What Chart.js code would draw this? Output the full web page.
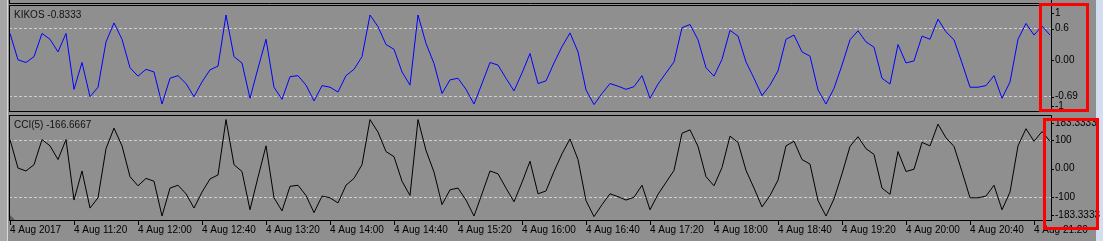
<!DOCTYPE html>
<html><head><meta charset="utf-8">
<script src="https://cdn.jsdelivr.net/npm/chart.js@4.4.1/dist/chart.umd.min.js"></script>
<style>
html,body{margin:0;padding:0;background:#8f8f8f;width:1103px;height:241px;overflow:hidden;position:relative}
canvas{position:absolute;left:0}
#cA{top:0}
#cB{top:113px}
#leftStrip{position:absolute;left:0;top:0;width:7px;height:241px;background:#a6a6a6;border-right:1px solid #d8d8d8}
#rightStrip{position:absolute;left:1096px;top:0;width:7px;height:241px;background:#d3dff0}
</style></head>
<body>
<div id="leftStrip"></div><div id="rightStrip"></div>
<canvas id="cA" width="1103" height="114"></canvas>
<canvas id="cB" width="1103" height="128"></canvas>
<script>
// ---- data (M5 bars, 4 Aug 2017 10:40 .. 21:30) ----
const kikosValues = [0.51,0.01,-0.04,0.07,0.51,0.40,0.16,0.51,-0.55,-0.04,
-0.69,-0.51,0.35,0.71,0.40,-0.14,-0.30,-0.17,-0.22,-0.83,
-0.34,-0.29,-0.44,-0.69,-0.41,-0.18,-0.11,0.86,0.07,-0.05,
-0.72,-0.15,0.40,-0.51,-0.74,-0.31,-0.29,-0.47,-0.77,-0.48,
-0.51,-0.60,-0.29,-0.17,0.07,0.86,0.64,0.30,0.21,-0.22,
-0.47,0.86,0.32,-0.06,-0.63,-0.37,-0.34,-0.55,-0.83,-0.44,
-0.04,-0.09,-0.34,-0.58,-0.24,0.13,-0.44,-0.39,-0.05,0.26,
0.52,0.16,-0.56,-0.84,-0.63,-0.44,-0.49,-0.55,-0.50,-0.29,
-0.72,-0.45,-0.24,-0.03,0.62,0.68,0.39,-0.14,-0.30,0.02,
0.57,0.46,-0.03,-0.34,-0.67,-0.47,-0.20,0.40,0.48,0.16,
0.08,-0.56,-0.83,-0.53,-0.09,0.39,0.56,0.35,0.25,-0.34,
-0.45,0.30,-0.05,-0.01,0.46,0.40,0.78,0.54,0.39,-0.05,
-0.51,-0.51,-0.48,-0.29,-0.72,-0.41,0.40,0.70,0.48,0.65,
0.48];
const cciValues = [102,2,-8,14,102,80,32,102,-110,-8,
-138,-102,70,142,80,-28,-60,-34,-44,-166,
-68,-58,-88,-138,-82,-36,-22,172,14,-10,
-144,-30,80,-102,-148,-62,-58,-94,-154,-96,
-102,-120,-58,-34,14,172,128,60,42,-44,
-94,172,64,-12,-126,-74,-68,-110,-166,-88,
-8,-18,-68,-116,-48,26,-88,-78,-10,52,
104,32,-112,-168,-126,-88,-98,-110,-100,-58,
-144,-90,-48,-6,124,136,78,-28,-60,4,
114,92,-6,-68,-134,-94,-40,80,96,32,
16,-112,-166,-106,-18,78,112,70,50,-68,
-90,60,-10,-2,92,80,156,108,78,-10,
-102,-102,-96,-58,-144,-82,80,140,96,130,
96];
const timeTickIndex = [0,8,16,24,32,40,48,56,64,72,80,88,96,104,112,120,128];
const timeTickLabels = ['4 Aug 2017','4 Aug 11:20','4 Aug 12:00','4 Aug 12:40','4 Aug 13:20','4 Aug 14:00','4 Aug 14:40','4 Aug 15:20','4 Aug 16:00','4 Aug 16:40','4 Aug 17:20','4 Aug 18:00','4 Aug 18:40','4 Aug 19:20','4 Aug 20:00','4 Aug 20:40','4 Aug 21:20'];
const kikosTickValues = [1, 0.6, 0, -0.69, -1];
const kikosTickLabels = ['1', '0.6', '0.00', '-0.69', '-1'];
const kikosLevels = [0.6, -0.69];
const cciTickValues = [183.3333, 100, 0, -100, -183.3333];
const cciTickLabels = ['183.3333', '100', '0.00', '-100', '-183.3333'];
const cciLevels = [100, -100];
const kikosTitle = 'KIKOS -0.8333';
const cciTitle = 'CCI(5) -166.6667';

// ---- rendering ----
const FONT = "'Liberation Sans', Arial, sans-serif";
const FSIZE = 10;
Chart.defaults.font.family = FONT;
Chart.defaults.font.size = FSIZE;
Chart.defaults.color = '#000';

const panelPlugin = {
  id: 'panel',
  beforeDatasetsDraw(chart, args, o) {
    const {ctx, chartArea: a} = chart;
    ctx.save();
    if (o.tri) {
      ctx.fillStyle = '#5a5a5a';
      ctx.beginPath();
      ctx.moveTo(a.left + 1, a.bottom - 6); ctx.lineTo(a.left + 1, a.bottom); ctx.lineTo(a.left + 7, a.bottom);
      ctx.closePath(); ctx.fill();
    }
    ctx.restore();
  },
  afterDraw(chart, args, o) {
    const {ctx, chartArea: a} = chart;
    const ys = chart.scales.y;
    ctx.save();
    ctx.strokeStyle = '#000'; ctx.lineWidth = 1;
    ctx.strokeRect(a.left + 0.5, a.top + 0.5, a.right - a.left - 1, a.bottom - a.top - 1);
    if (o.topLine) {
      ctx.beginPath();
      ctx.moveTo(a.left, 3.5); ctx.lineTo(a.right, 3.5);
      ctx.moveTo(a.left + 0.5, 0); ctx.lineTo(a.left + 0.5, 4);
      ctx.moveTo(a.right - 0.5, 0); ctx.lineTo(a.right - 0.5, 4);
      ctx.stroke();
    }
    ctx.font = FSIZE + 'px ' + FONT;
    ctx.fillStyle = '#000';
    ctx.textBaseline = 'middle'; ctx.textAlign = 'left';
    o.values.forEach((v, k) => {
      let y = ys.getPixelForValue(v);
      y = Math.min(Math.max(y, a.top + 8), a.bottom - 6);
      ctx.fillText(o.labels[k], a.right + 3, y);
      const yy = Math.round(y) + 0.5;
      ctx.beginPath(); ctx.moveTo(a.right, yy); ctx.lineTo(a.right + 2, yy); ctx.stroke();
    });
    ctx.fillStyle = '#111';
    ctx.fillText(o.title, a.left + 5, a.top + 10);
    ctx.strokeStyle = '#ff0000'; ctx.lineWidth = 3;
    const r = o.box;
    ctx.strokeRect(r[0], r[1], r[2], r[3]);
    ctx.restore();
  }
};

function makeChart(id, values, color, yMin, yMax, tickVals, tickLabels, levels, title, showX, pad, box, extra) {
  const xScale = {
    type: 'linear', min: -0.125, max: 130.25,
    display: showX,
    afterBuildTicks: s => { s.ticks = timeTickIndex.map(v => ({value: v})); },
    afterFit: s => { s.height = showX ? 20 : 0; },
    ticks: {
      autoSkip: false, maxRotation: 0, align: 'start', padding: 0,
      font: {size: FSIZE, lineHeight: 1},
      callback: v => timeTickLabels[timeTickIndex.indexOf(v)]
    },
    grid: {drawOnChartArea: false, drawTicks: true, tickLength: 4, tickColor: '#000', color: '#000'},
    border: {display: false}
  };
  return new Chart(document.getElementById(id), {
    type: 'line',
    data: {datasets: [{
      data: values.map((v, i) => ({x: i, y: v})),
      borderColor: color, borderWidth: 1, pointRadius: 0, pointHoverRadius: 0,
      tension: 0, fill: false
    }]},
    options: {
      responsive: false, animation: false, events: [],
      layout: {padding: pad},
      plugins: {legend: {display: false}, tooltip: {enabled: false},
        panel: Object.assign({values: tickVals, labels: tickLabels, title, box}, extra)},
      scales: {
        x: xScale,
        y: {
          position: 'right', min: yMin, max: yMax,
          afterBuildTicks: s => { s.ticks = levels.map(v => ({value: v})); },
          afterFit: s => { s.width = 51; },
          ticks: {display: false},
          grid: {drawTicks: false, color: '#cfcfcf', lineWidth: 1},
          border: {display: false, dash: [3, 2]}
        }
      }
    },
    plugins: [panelPlugin]
  });
}

makeChart('cA', kikosValues, '#0000ff', -0.98, 1.05, kikosTickValues, kikosTickLabels, kikosLevels, kikosTitle,
  false, {left: 9, top: 5, right: 0, bottom: 2}, [1040.5, 4.5, 47, 106], {topLine: true});
makeChart('cB', cciValues, '#000000', -183.3, 188, cciTickValues, cciTickLabels, cciLevels, cciTitle,
  true, {left: 9, top: 2, right: 0, bottom: 0}, [1044.5, 6.5, 53, 109], {tri: true});
</script>
</body></html>
